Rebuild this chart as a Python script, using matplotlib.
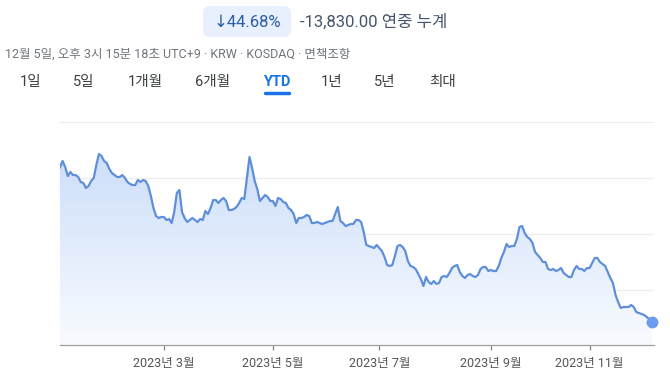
import numpy as np
import matplotlib
matplotlib.use("Agg")
import matplotlib.pyplot as plt
from matplotlib.patches import FancyBboxPatch

# ---- data (KOSDAQ stock, YTD 2023, trading-day index) ----
prices = [
    30950, 31517, 30982, 30178, 30536, 30268, 30268, 30089, 29643, 29554,
    29107, 29286, 29732, 29999, 31160, 32142, 31964, 31517, 31339, 30804,
    30446, 30268, 30089, 30089, 30268, 29999, 29643, 29464, 29375, 29375,
    29821, 29643, 29821, 29732, 29286, 28393, 27321, 26607, 26428, 26518,
    26518, 26250, 26339, 25982, 26964, 28661, 28929, 26964, 26428, 26071,
    26250, 26428, 26250, 26071, 26339, 26250, 27053, 26785, 27321, 28036,
    28036, 27767, 28036, 28214, 27946, 27143, 27143, 27232, 27410, 27767,
    28214, 28125, 30000, 31875, 30893, 29732, 29018, 27946, 28214, 28482,
    28303, 27946, 27946, 27500, 28214, 28125, 27857, 27767, 27321, 27143,
    26785, 25982, 26428, 26428, 26518, 26696, 26607, 25982, 25982, 26071,
    25982, 25893, 25982, 26071, 26160, 26160, 26785, 27410, 26160, 25982,
    25714, 25803, 25893, 25893, 26250, 26250, 26071, 25178, 24017, 23928,
    23839, 23750, 24017, 23750, 23482, 22946, 22232, 22143, 22232, 23035,
    23928, 24017, 23839, 23482, 22589, 22143, 22053, 21875, 21428, 20982,
    20357, 21160, 20714, 20536, 20803, 20536, 20625, 21160, 21250, 21160,
    21518, 21964, 22143, 22232, 21607, 21250, 21071, 21339, 21428, 21250,
    21160, 21339, 21875, 22053, 22053, 21696, 21786, 21696, 21696, 22143,
    22857, 23393, 24107, 23839, 23928, 23928, 24553, 25625, 25714, 25089,
    24732, 24553, 24196, 23393, 23125, 22857, 22500, 22500, 21875, 21786,
    21875, 21696, 21786, 21964, 21518, 21339, 21160, 21160, 21786, 22143,
    21875, 21875, 21696, 21964, 21964, 22411, 22857, 22857, 22500, 22321,
    22143, 21607, 21071, 20625, 19553, 18928, 18393, 18482, 18482, 18482,
    18660, 18482, 18035, 17946, 17857, 17767, 17589, 17410, 17120,
]
tick_index = [40, 82, 123, 166, 204]
tick_labels = ["2023년 3월", "2023년 5월", "2023년 7월", "2023년 9월", "2023년 11월"]
grid_values = [20000, 25000, 30000, 35000]
change_pct = "↓44.68%"
change_abs = "-13,830.00 연중 누계"
info_line = "12월 5일, 오후 3시 15분 18초 UTC+9 · KRW · KOSDAQ · 면책조항"
tabs = ["1일", "5일", "1개월", "6개월", "YTD", "1년", "5년", "최대"]
tab_x = [31, 84, 145, 212, 277, 332, 385, 443]

plt.rcParams['font.family'] = ['Roboto', 'Noto Sans CJK KR', 'DejaVu Sans']

W, H = 670, 377
fig = plt.figure(figsize=(W / 100, H / 100), dpi=100)

# ---- chart axes ----
left, right, top, bottom = 60, 654, 122, 345
ax = fig.add_axes([left / W, (H - bottom) / H, (right - left) / W, (bottom - top) / H])
x = np.arange(len(prices))
y = np.array(prices)
ymin, ymax = 15089, 35000
ax.set_xlim(0, (right - left) / 2.596)
ax.set_ylim(ymin, ymax)

for g in grid_values:
    ax.axhline(g, color="#ececec", lw=0.8, zorder=0)

# gradient fill under the line
coll = ax.fill_between(x, y, ymin, facecolor="none", edgecolor="none")
grad = np.linspace(0, 1, 256).reshape(-1, 1)
c_top = np.array([0.80, 0.87, 0.98])
c_bot = np.array([0.975, 0.985, 1.0])
img = c_top[None, None, :] * (1 - grad[..., None]) + c_bot[None, None, :] * grad[..., None]
im = ax.imshow(img, extent=[0, len(prices) - 1, ymin, 32500], origin="upper",
               aspect="auto", zorder=1, interpolation="bilinear")
im.set_clip_path(coll.get_paths()[0], transform=ax.transData)

ax.plot(x, y, color="#5f8fd9", lw=1.6, zorder=3, solid_joinstyle="round")
ax.plot([x[-1]], [y[-1]], "o", color="#6b9cf0", ms=7.5, zorder=4, clip_on=False)

for s in ["top", "right", "left"]:
    ax.spines[s].set_visible(False)
ax.spines["bottom"].set_color("#9e9e9e")
ax.spines["bottom"].set_linewidth(0.9)
ax.set_yticks([])
ax.set_xticks(tick_index)
ax.set_xticklabels(tick_labels, fontsize=9, color="#555555")
ax.tick_params(axis="x", length=3.5, width=0.9, color="#808080", pad=5)

# ---- header overlay in pixel coords ----
ov = fig.add_axes([0, 0, 1, 1], zorder=-1)
ov.set_xlim(0, W)
ov.set_ylim(H, 0)
ov.axis("off")

badge = FancyBboxPatch((203, 6), 88, 31, boxstyle="round,pad=0,rounding_size=7",
                       facecolor="#e8f0fe", edgecolor="none")
ov.add_patch(badge)
ov.text(247, 22, change_pct, fontsize=12, color="#2b5ea7", ha="center", va="center",
        family=["Roboto", "DejaVu Sans"])
ov.text(300, 22, change_abs, fontsize=12, color="#44546a", ha="left", va="center")
ov.text(5, 54, info_line, fontsize=9, color="#70757a", ha="left", va="center")

for t, tx in zip(tabs, tab_x):
    if t == "YTD":
        ov.text(tx, 82, t, fontsize=10.5, color="#1a73e8", ha="center", va="center",
                fontweight="bold")
    else:
        ov.text(tx, 82, t, fontsize=10.5, color="#3c4043", ha="center", va="center")
ov.plot([265, 289], [92.5, 92.5], color="#1a73e8", lw=2.5, solid_capstyle="round")

fig.savefig("out.png", dpi=100)
